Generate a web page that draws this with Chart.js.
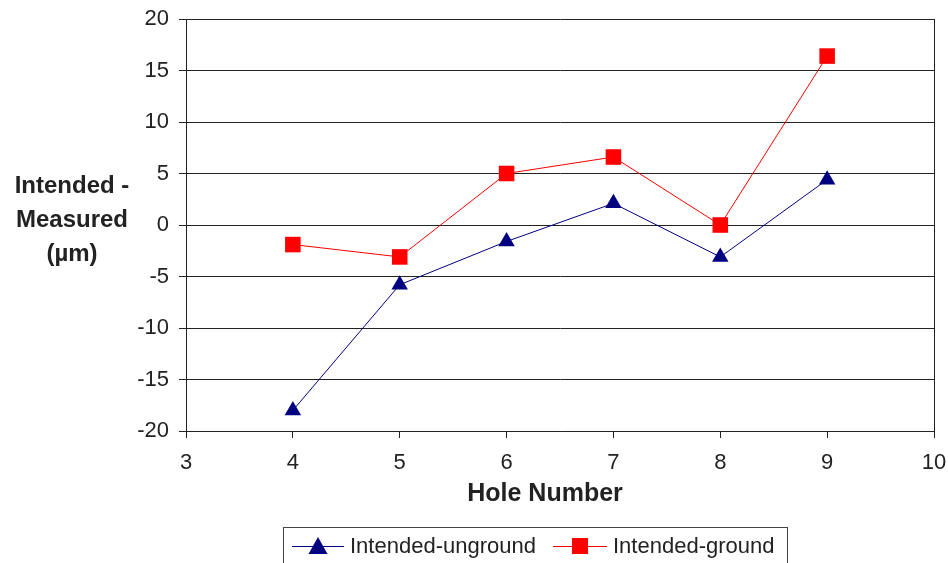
<!DOCTYPE html>
<html>
<head>
<meta charset="utf-8">
<script src="https://cdn.jsdelivr.net/npm/chart.js@4"></script>
<style>
  html, body { margin: 0; padding: 0; background: #fff; }
  #wrap { width: 948px; height: 563px; position: relative; }
</style>
</head>
<body>
<div id="wrap"><canvas id="chart" width="948" height="563"></canvas></div>
<script>
// data
const holes = [4, 5, 6, 7, 8, 9];
const unground = [-18, -5.8, -1.6, 2.1, -3.1, 4.4];
const ground = [-1.9, -3.1, 5.0, 6.6, 0, 16.4];
const seriesNames = ["Intended-unground", "Intended-ground"];
const yTitle = ["Intended -", "Measured", "(\u00b5m)"];
const xTitle = "Hole Number";

const FONT = "'Liberation Sans', Arial, sans-serif";
const BLUE = "#000080";
const RED = "#ff0000";
const INK = "#222";

const toPoints = (vals) => holes.map((h, i) => ({ x: h, y: vals[i] }));

// axis titles: horizontal y title on the left, x title slightly left of centre
const titlesPlugin = {
  id: "axisTitles",
  afterDraw(chart) {
    const ctx = chart.ctx;
    ctx.save();
    ctx.fillStyle = INK;
    ctx.textAlign = "center";
    ctx.textBaseline = "middle";
    ctx.font = "bold 24px " + FONT;
    yTitle.forEach((line, i) => ctx.fillText(line, 72, 186 + i * 34));
    ctx.font = "bold 25px " + FONT;
    ctx.fillText(xTitle, 545, 494);
    ctx.restore();
  }
};

// legend box at the bottom, line + marker style
const legendPlugin = {
  id: "boxLegend",
  afterDraw(chart) {
    const ctx = chart.ctx;
    ctx.save();
    ctx.strokeStyle = "#444";
    ctx.lineWidth = 1;
    ctx.strokeRect(283.5, 527.5, 504, 45);
    ctx.font = "22px " + FONT;
    ctx.textBaseline = "middle";
    const items = [
      { x: 292, len: 52, ds: chart.data.datasets[0] },
      { x: 553, len: 54, ds: chart.data.datasets[1] }
    ];
    const y = 546;
    items.forEach((it) => {
      const cx = it.x + it.len / 2;
      ctx.strokeStyle = it.ds.borderColor;
      ctx.beginPath();
      ctx.moveTo(it.x, y + 0.5);
      ctx.lineTo(it.x + it.len, y + 0.5);
      ctx.stroke();
      ctx.fillStyle = it.ds.pointBackgroundColor;
      ctx.beginPath();
      if (it.ds.pointStyle === "triangle") {
        ctx.moveTo(cx, y - 9);
        ctx.lineTo(cx + 9.5, y + 8);
        ctx.lineTo(cx - 9.5, y + 8);
        ctx.closePath();
      } else {
        ctx.rect(cx - 8, y - 8, 16, 16);
      }
      ctx.fill();
      ctx.fillStyle = INK;
      ctx.fillText(it.ds.label, it.x + it.len + 6, y + 1);
    });
    ctx.restore();
  }
};

new Chart(document.getElementById("chart"), {
  type: "scatter",
  data: {
    datasets: [
      {
        label: seriesNames[0],
        data: toPoints(unground),
        showLine: true,
        borderColor: BLUE,
        borderWidth: 1,
        backgroundColor: BLUE,
        pointBackgroundColor: BLUE,
        pointBorderColor: BLUE,
        pointBorderWidth: 0,
        pointStyle: "triangle",
        pointRadius: 9.5,
        pointHoverRadius: 9.5
      },
      {
        label: seriesNames[1],
        data: toPoints(ground),
        showLine: true,
        borderColor: RED,
        borderWidth: 1,
        backgroundColor: RED,
        pointBackgroundColor: RED,
        pointBorderColor: RED,
        pointBorderWidth: 0,
        pointStyle: "rect",
        pointRadius: 11,
        pointHoverRadius: 11
      }
    ]
  },
  options: {
    responsive: false,
    animation: false,
    layout: { padding: { top: 19, right: 14, bottom: 50, left: 0 } },
    plugins: {
      legend: { display: false },
      tooltip: { enabled: false }
    },
    scales: {
      x: {
        type: "linear",
        min: 3,
        max: 10,
        afterFit: (s) => {
          s.height = 82;
          s.paddingLeft = 0;
          s.paddingRight = 0;
        },
        ticks: {
          stepSize: 1,
          color: INK,
          font: { family: FONT, size: 22 },
          padding: 12
        },
        grid: {
          color: (c) => (c.tick && c.tick.value === 10 ? INK : "transparent"),
          tickColor: INK,
          tickLength: 7
        },
        border: { color: INK, width: 1 }
      },
      y: {
        min: -20,
        max: 20,
        afterFit: (s) => {
          s.width = 186;
          s.paddingTop = 0;
          s.paddingBottom = 0;
        },
        ticks: {
          stepSize: 5,
          color: INK,
          font: { family: FONT, size: 22 },
          padding: 10
        },
        grid: {
          color: INK,
          tickColor: INK,
          tickLength: 7
        },
        border: { color: INK, width: 1 }
      }
    }
  },
  plugins: [titlesPlugin, legendPlugin]
});
</script>
</body>
</html>
